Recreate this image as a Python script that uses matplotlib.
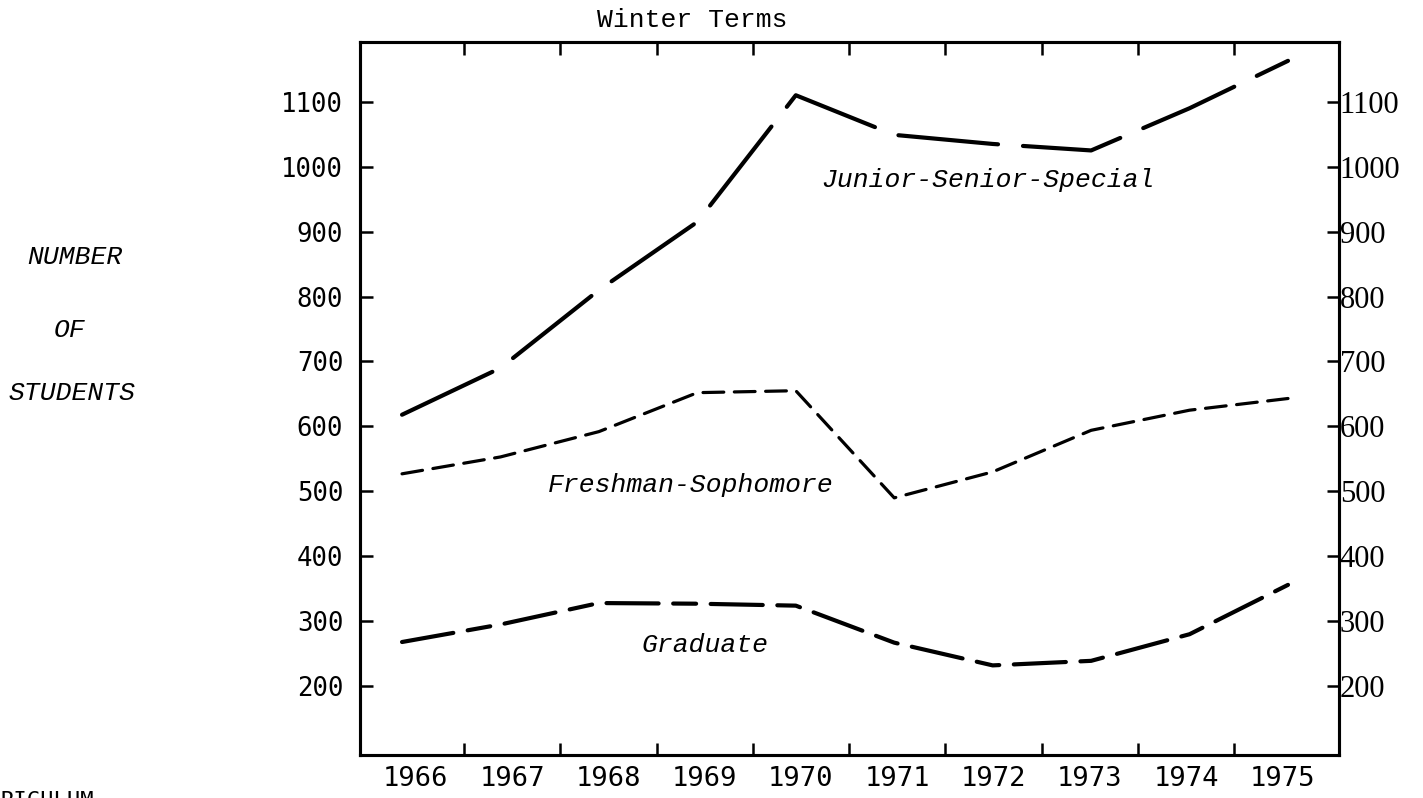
import matplotlib
matplotlib.use('Agg')
import matplotlib.pyplot as plt

# enrollment, winter terms
years = [1966, 1967, 1968, 1969, 1970, 1971, 1972, 1973, 1974, 1975]
junior_senior_special = [618, 690, 810, 915, 1110, 1049, 1035, 1025, 1090, 1163]
freshman_sophomore = [527, 553, 592, 652, 655, 490, 530, 594, 625, 643]
graduate = [268, 295, 328, 327, 324, 267, 232, 239, 280, 356]

y_ticks = [200, 300, 400, 500, 600, 700, 800, 900, 1000, 1100]
year_labels = [str(y) for y in years]

W, H = 1423, 798
fig = plt.figure(figsize=(W / 100, H / 100), dpi=100)
ax = fig.add_axes([360 / W, 1 - 755 / H, 979 / W, 713 / H])

ax.plot(years, junior_senior_special, color='black', lw=3.0,
        dashes=(24, 6), dash_capstyle='round')
ax.plot(years, freshman_sophomore, color='black', lw=2.3,
        dashes=(6.5, 3.3), dash_capstyle='round')
ax.plot(years, graduate, color='black', lw=3.0,
        dashes=(12.5, 3.5, 5.5, 3.5), dash_capstyle='round')

ax.set_xlim(1965.573, 1975.518)
ax.set_ylim(94, 1192)

# typed year labels sit a little off the plotted points
label_pos = [1966.14 + 0.978 * i for i in range(len(years))]
bounds = [p + 0.49 for p in label_pos[:-1]]
ax.set_xticks(label_pos)
ax.set_xticklabels(year_labels, fontfamily='DejaVu Sans Mono', fontsize=19.5)
ax.set_xticks(bounds, minor=True)
ax.tick_params(axis='x', which='major', length=0, pad=8)
ax.tick_params(axis='x', which='minor', direction='in', length=9, width=1.8,
               top=True, bottom=True)

ax.set_yticks(y_ticks)
ax.set_yticklabels([str(v) for v in y_ticks], fontfamily='DejaVu Sans Mono', fontsize=18.5)
ax.tick_params(axis='y', direction='in', length=9, width=1.8, pad=12)

ax2 = ax.twinx()
ax2.set_ylim(ax.get_ylim())
ax2.set_yticks(y_ticks)
ax2.set_yticklabels([str(v) for v in y_ticks], fontfamily='Liberation Serif', fontsize=22)
ax2.tick_params(axis='y', direction='in', length=9, width=1.8, pad=0.5)

for a in (ax, ax2):
    for s in a.spines.values():
        s.set_linewidth(2.2)

mono_it = dict(fontfamily='Liberation Mono', fontstyle='italic', fontsize=19,
               ha='center', va='center')
ax.text(1971.95, 980, 'Junior-Senior-Special', **mono_it)
ax.text(1968.93, 510, 'Freshman-Sophomore', **mono_it)
ax.text(1969.08, 264, 'Graduate', **mono_it)

fig.text(692 / W, 1 - 20 / H, 'Winter Terms', fontfamily='Liberation Mono',
         fontsize=19, ha='center', va='center')
fig.text(75 / W, 1 - 257 / H, 'NUMBER', **mono_it)
fig.text(70 / W, 1 - 330 / H, 'OF', **mono_it)
fig.text(72 / W, 1 - 393 / H, 'STUDENTS', **mono_it)
fig.text(0, 1 - 801 / H, 'RICULUM', fontfamily='DejaVu Sans Mono', fontsize=16,
         ha='left', va='center')

fig.savefig('out.png', dpi=100)
